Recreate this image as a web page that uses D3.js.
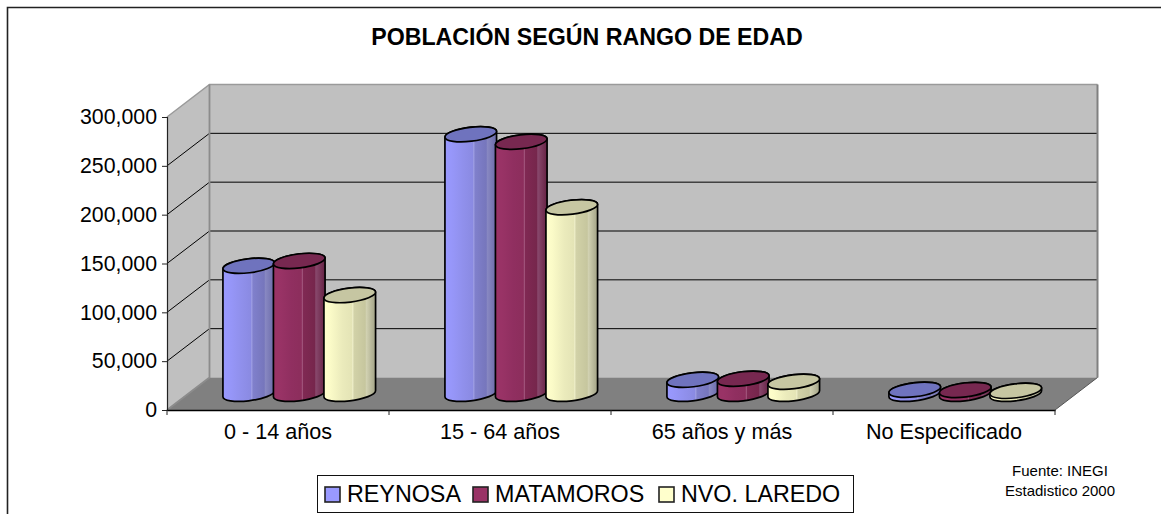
<!DOCTYPE html>
<html><head><meta charset="utf-8">
<script src="https://cdn.jsdelivr.net/npm/d3@7/dist/d3.min.js"></script>
<style>html,body{margin:0;padding:0;background:#fff}svg{display:block}text{font-family:"Liberation Sans",Arial,sans-serif;fill:#000}</style>
</head><body>
<script>
const title = "POBLACIÓN SEGÚN RANGO DE EDAD";
const categories = ["0 - 14 años", "15 - 64 años", "65 años y más", "No Especificado"];
const seriesNames = ["REYNOSA", "MATAMOROS", "NVO. LAREDO"];
const reynosa = [131000, 265700, 14300, 4100];
const matamoros = [136000, 258000, 15400, 3900];
const laredo = [101000, 191000, 12300, 3000];
const yTicks = [0, 50000, 100000, 150000, 200000, 250000, 300000];
const sourceLines = ["Fuente: INEGI", "Estadistico 2000"];
const allSeries = [reynosa, matamoros, laredo];

const W = 1161, H = 514;
const depth = {dx: 42.5, dy: -32.5};
const x = d3.scaleBand().domain(categories).range([167, 1055]).paddingInner(0).paddingOuter(0);
const y = d3.scaleLinear().domain([0, 300000]).range([410, 117]);
const inner = d3.scaleBand().domain(seriesNames).range([-75.75, 75.75]);

const palette = {
  REYNOSA:     {stops: ["#9999FF","#9797FA","#9090EC","#8A8AE2","#A2A2E4","#8080CC","#7676BC","#8888C2","#6A6AA8"], top: "#6F73BE", key: "#9999FF"},
  MATAMOROS:   {stops: ["#993366","#993366","#902F60","#8C2E5C","#A4587F","#802953","#76264C","#88486C","#662244"], top: "#772850", key: "#993366"},
  "NVO. LAREDO":{stops: ["#FFFFCC","#FBFBC8","#EBEBBC","#E4E4B6","#F0F0CC","#D2D2A8","#C6C69E","#D2D2B2","#A2A286"], top: "#C6C6A2", key: "#FFFFCC"}
};
const stopPos = [0, .12, .35, .54, .56, .58, .8, .82, 1];

const svg = d3.select("body").append("svg").attr("width", W).attr("height", H);
const defs = svg.append("defs");
seriesNames.forEach((s, i) => {
  const g = defs.append("linearGradient").attr("id", "g" + i);
  palette[s].stops.forEach((c, k) => g.append("stop").attr("offset", stopPos[k]).attr("stop-color", c));
});

// frame
svg.append("path").attr("d", `M7.5,${H} V7.5 H${W}`).attr("fill", "none").attr("stroke", "#222").attr("stroke-width", 1.6);

// walls and floor
const x0 = x.range()[0], x1 = x.range()[1], yb = y(0), yt = y(300000);
const poly = pts => d3.line()(pts) + "Z";
svg.append("path").attr("d", poly([[x0, yb], [x0 + depth.dx, yb + depth.dy], [x0 + depth.dx, yt + depth.dy], [x0, yt]]))
  .attr("fill", "#C0C0C0");
svg.append("path").attr("d", poly([[x0 + depth.dx, yb + depth.dy], [x1 + depth.dx, yb + depth.dy], [x1 + depth.dx, yt + depth.dy], [x0 + depth.dx, yt + depth.dy]]))
  .attr("fill", "#C0C0C0");
svg.append("path").attr("d", poly([[x0, yb], [x1, yb], [x1 + depth.dx, yb + depth.dy], [x0 + depth.dx, yb + depth.dy]]))
  .attr("fill", "#808080");

// gridlines
svg.append("g").selectAll("path").data(yTicks.filter(t => t > 0 && t < 300000)).join("path")
  .attr("d", t => d3.line()([[x0, y(t)], [x0 + depth.dx, y(t) + depth.dy], [x1 + depth.dx, y(t) + depth.dy]]))
  .attr("fill", "none").attr("stroke", "#000").attr("stroke-width", 1);

// wall edges
svg.append("path").attr("d", d3.line()([[x0, yt], [x0 + depth.dx, yt + depth.dy], [x1 + depth.dx, yt + depth.dy]]))
  .attr("fill", "none").attr("stroke", "#9a9a9a").attr("stroke-width", 1.5);
svg.append("path").attr("d", d3.line()([[x0 + depth.dx, yt + depth.dy], [x0 + depth.dx, yb + depth.dy], [x0, yb]]))
  .attr("fill", "none").attr("stroke", "#8c8c8c").attr("stroke-width", 1.8);
svg.append("path").attr("d", d3.line()([[x1 + depth.dx, yt + depth.dy], [x1 + depth.dx, yb + depth.dy]]))
  .attr("fill", "none").attr("stroke", "#808080").attr("stroke-width", 2);
svg.append("path").attr("d", d3.line()([[x1, yb], [x1 + depth.dx, yb + depth.dy]]))
  .attr("fill", "none").attr("stroke", "#555").attr("stroke-width", 1);

// cylinders
const rx = 26, ry = 7, tilt = -7 * Math.PI / 180;
const tilted = t => [rx * Math.cos(t) * Math.cos(tilt) - ry * Math.sin(t) * Math.sin(tilt),
                     rx * Math.cos(t) * Math.sin(tilt) + ry * Math.sin(t) * Math.cos(tilt)];
const tTan = Math.atan2(-ry * Math.sin(tilt), rx * Math.cos(tilt));
const [ex, ey] = tilted(tTan);
const arc = (large, sweep, px, py) => `A${rx},${ry} ${tilt * 180 / Math.PI} ${large} ${sweep} ${px},${py}`;
const baseMid = depth.dy / 2;
const bars = svg.append("g");
categories.forEach((c, ci) => {
  seriesNames.forEach((s, si) => {
    const v = allSeries[si][ci];
    const cx = x(c) + x.bandwidth() / 2 + depth.dx / 2 + inner(s) + inner.bandwidth() / 2;
    const by = y(0) + baseMid, ty = y(v) + baseMid;
    bars.append("path")
      .attr("d", `M${cx - ex},${ty - ey} L${cx - ex},${by - ey} ${arc(0, 0, cx + ex, by + ey)} L${cx + ex},${ty + ey} ${arc(0, 0, cx - ex, ty - ey)} Z`)
      .attr("fill", `url(#g${si})`).attr("stroke", "#000").attr("stroke-width", 1.7).attr("stroke-linejoin", "round");
    bars.append("ellipse").attr("cx", 0).attr("cy", 0).attr("rx", rx).attr("ry", ry)
      .attr("transform", `translate(${cx},${ty}) rotate(${tilt * 180 / Math.PI})`)
      .attr("fill", palette[s].top).attr("stroke", "#000").attr("stroke-width", 1.7);
  });
});

// axes
const yAxis = svg.append("g").attr("transform", `translate(${x0},0)`)
  .call(d3.axisLeft(y).tickValues(yTicks).tickFormat(d3.format(",")).tickSize(5).tickPadding(5));
yAxis.select(".domain").attr("stroke", "#222").attr("stroke-width", 1.2);
yAxis.selectAll(".tick line").attr("stroke", "#222");
yAxis.selectAll("text").style("font-size", "21.3px").attr("fill", "#000").style("font-family", '"Liberation Sans",Arial,sans-serif');

const xAxis = svg.append("g").attr("transform", `translate(0,${yb})`)
  .call(d3.axisBottom(x).tickSize(0).tickPadding(14));
xAxis.select(".domain").attr("stroke", "#000").attr("stroke-width", 1.3);
xAxis.selectAll("text").style("font-size", "21.6px").attr("fill", "#000").style("font-family", '"Liberation Sans",Arial,sans-serif');
svg.append("g").selectAll("line").data(categories.map(c => x(c)).concat([x1])).join("line")
  .attr("x1", d => d).attr("x2", d => d).attr("y1", yb).attr("y2", yb + 5).attr("stroke", "#222");

// title
svg.append("text").attr("x", 587).attr("y", 45).attr("text-anchor", "middle")
  .style("font-size", "23.2px").style("font-weight", "bold").text(title);

// legend
const legend = svg.append("g");
legend.append("rect").attr("x", 317.5).attr("y", 475.5).attr("width", 536).attr("height", 37)
  .attr("fill", "#fff").attr("stroke", "#111").attr("stroke-width", 1);
const keyX = [325, 473, 659];
seriesNames.forEach((s, i) => {
  legend.append("rect").attr("x", keyX[i]).attr("y", 487).attr("width", 15).attr("height", 15)
    .attr("fill", palette[s].key).attr("stroke", "#222").attr("stroke-width", 1.6);
  legend.append("text").attr("x", keyX[i] + 22).attr("y", 502).style("font-size", "23.3px").text(s);
});

// source
svg.append("g").selectAll("text").data(sourceLines).join("text")
  .attr("x", 1060).attr("y", (d, i) => 476 + i * 20).attr("text-anchor", "middle")
  .style("font-size", "15px").text(d => d);
</script>
</body></html>
